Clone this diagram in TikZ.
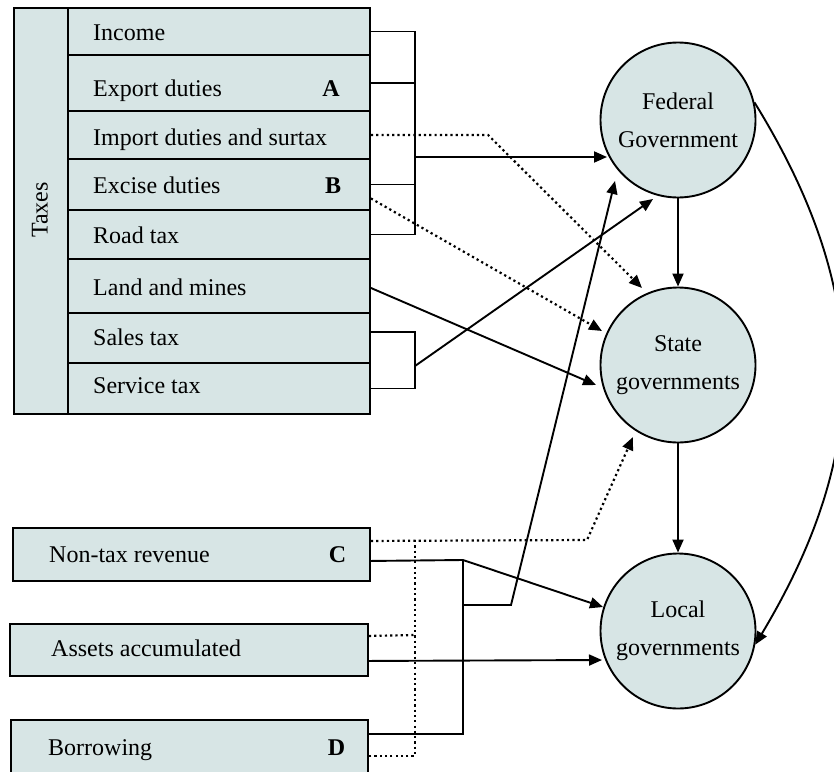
\documentclass[tikz,border=0pt]{standalone}
\usepackage{fontspec}
\setmainfont{Liberation Serif}
\usetikzlibrary{arrows.meta}
\definecolor{boxfill}{RGB}{215,229,229}
\begin{document}
\begin{tikzpicture}[x=1pt,y=-1pt,
  font=\fontsize{24}{38}\selectfont,
  cell/.style={draw, line width=1.9pt, fill=boxfill, rectangle, inner sep=0pt, anchor=north west},
  gov/.style={circle, draw, line width=1.9pt, fill=boxfill, minimum size=155pt, inner sep=0pt, align=center},
  lbl/.style={anchor=base west, inner sep=0pt},
  key/.style={anchor=base, inner sep=0pt, font=\fontsize{24}{38}\selectfont\bfseries},
  link/.style={line width=1.9pt},
  flow/.style={link, -{Triangle[length=13pt,width=11pt]}},
  dotline/.style={line width=2.2pt, dash pattern=on 2.2pt off 3.1pt},
  dotflow/.style={dotline, -{Triangle[length=13pt,width=11pt]}}]
\useasboundingbox (0,0) rectangle (834,771);

% --- tax table ---
\node[cell, minimum width=54pt, minimum height=406pt] (taxcol) at (13,7) {};
\node[rotate=90, inner sep=0pt] (taxes) at (40,210) {Taxes};
\node[cell, minimum width=302pt, minimum height=47pt] (r1) at (67,7) {};
\node[cell, minimum width=302pt, minimum height=56pt] (r2) at (67,54) {};
\node[cell, minimum width=302pt, minimum height=48pt] (r3) at (67,110) {};
\node[cell, minimum width=302pt, minimum height=51pt] (r4) at (67,158) {};
\node[cell, minimum width=302pt, minimum height=49pt] (r5) at (67,209) {};
\node[cell, minimum width=302pt, minimum height=54pt] (r6) at (67,258) {};
\node[cell, minimum width=302pt, minimum height=50pt] (r7) at (67,312) {};
\node[cell, minimum width=302pt, minimum height=51pt] (r8) at (67,362) {};
\node[lbl] (t1) at (93,40) {Income};
\node[lbl] (t2) at (93,96.5) {Export duties};
\node[lbl] (t3) at (93,145) {Import duties and surtax};
\node[lbl] (t4) at (93,193) {Excise duties};
\node[lbl] (t5) at (93,243) {Road tax};
\node[lbl] (t6) at (93,295) {Land and mines};
\node[lbl] (t7) at (93,345) {Sales tax};
\node[lbl] (t8) at (93,393) {Service tax};
\node[key] (kA) at (331,96.5) {A};
\node[key] (kB) at (333,193) {B};

% --- other revenue boxes ---
\node[cell, minimum width=357pt, minimum height=53pt] (nontax) at (12,527) {};
\node[cell, minimum width=358pt, minimum height=52pt] (assets) at (9,623) {};
\node[cell, minimum width=357pt, minimum height=54pt] (borrow) at (10,719) {};
\node[lbl] (t9) at (49,562) {Non-tax revenue};
\node[lbl] (t10) at (51,656) {Assets accumulated};
\node[lbl] (t11) at (48,755) {Borrowing};
\node[key] (kC) at (337.5,562) {C};
\node[key] (kD) at (336.5,755) {D};

% --- governments ---
\node[gov] (fed) at (678,120) {Federal\\Government};
\node[gov] (state) at (678,365) {State\\governments};
\node[gov] (local) at (678,631) {Local\\governments};

% --- junctions and arrow ends ---
\coordinate (jA) at (415,157);
\coordinate (jB) at (415,366);
\coordinate (bendI) at (488,133);
\coordinate (jC) at (463,560);
\coordinate (jF) at (463,605);
\coordinate (bendF) at (511,605);
\coordinate (jD) at (415,540);
\coordinate (jD2) at (415,635);
\coordinate (bendS) at (587,540);
\coordinate (tipF1) at (607,157);
\coordinate (tipF2) at (653,199);
\coordinate (tipF3) at (615,181);
\coordinate (tipS1) at (642,288);
\coordinate (tipS2) at (602,331);
\coordinate (tipS3) at (596,385);
\coordinate (tipS4) at (633,437);
\coordinate (tipL1) at (603,607);
\coordinate (tipL2) at (602,660);

% --- federal taxes bracket ---
\draw[link] (r1.east) -- (r1.east -| jA) -- (r5.east -| jA) -- (r5.east);
\draw[link] (r2.east) -- (r2.east -| jA);
\draw[link] (r4.east) -- (r4.east -| jA);
\draw[flow] (jA) -- (tipF1);

% --- shared and state taxes ---
\draw[dotflow] (r3.east) -- (r3.east -| bendI) -- (tipS1);
\draw[dotflow] ([yshift=-14pt]r4.east) -- (tipS2);
\draw[flow] ([yshift=-2pt]r6.east) -- (tipS3);
\draw[link] ([yshift=6pt]r7.east) -| (jB);
\draw[link] (r8.east) -| (jB);
\draw[flow] (jB) -- (tipF2);

% --- non-tax sources ---
\draw[flow] ([yshift=-6.5pt]nontax.east) -- (jC) -- (tipL1);
\draw[link] (jC) |- ([yshift=13pt]borrow.east);
\draw[flow] (jF) -- (bendF) -- (tipF3);
\draw[flow] ([yshift=-11pt]assets.east) -- (tipL2);
\draw[dotflow] ([yshift=13.5pt]nontax.east) -- (bendS) -- (tipS4);
\draw[dotline] (jD) |- ([yshift=-9pt]borrow.east);
\draw[dotline] ([yshift=14pt]assets.east) -- (jD2);

% --- transfers between levels ---
\draw[flow] (fed.south) -- (state.north);
\draw[flow] (state.south) -- (local.north);
\draw[flow] (fed.13) .. controls (872,293) and (872,450) .. (local.-10);
\end{tikzpicture}
\end{document}
